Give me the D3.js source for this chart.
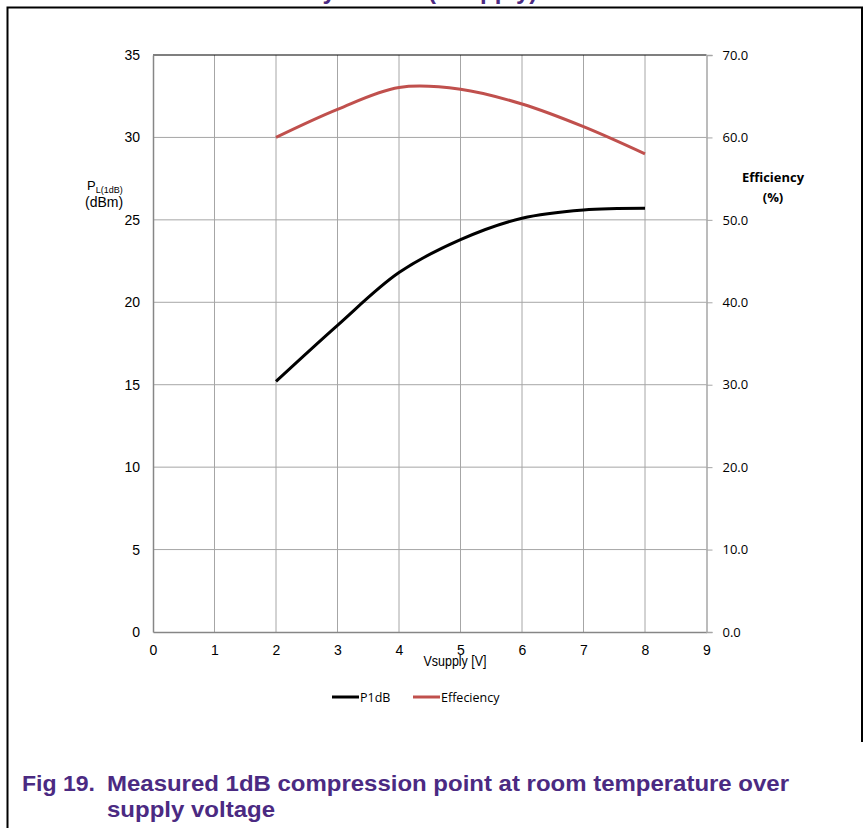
<!DOCTYPE html>
<html>
<head>
<meta charset="utf-8">
<script src="https://cdn.jsdelivr.net/npm/d3@7"></script>
<style>
  body { margin: 0; background: #fff; }
  svg { display: block; }
</style>
</head>
<body>
<svg id="chart" width="867" height="828"></svg>
<script>
// supply voltage (V) at which the points were measured
const vsupply = [2, 3, 4, 5, 6, 7, 8];
// P1dB in dBm (left axis)
const p1dB = [15.2, 18.6, 21.8, 23.8, 25.1, 25.6, 25.7];
// efficiency in % (right axis)
const efficiency = [60.0, 63.4, 66.05, 65.85, 64.05, 61.3, 58.0];

const xTicks = d3.range(0, 10, 1);
const leftTicks = d3.range(0, 36, 5);
const rightTicks = d3.range(0, 71, 10);

const purple = "#4b2a82";
const svg = d3.select("#chart");

const x = d3.scaleLinear().domain([0, 9]).range([153, 706.5]);
const yL = d3.scaleLinear().domain([0, 35]).range([632, 55]);
const yR = d3.scaleLinear().domain([0, 70]).range([632, 55]);

// page frame
svg.append("path")
  .attr("d", "M7.5,828 V7.5 H862 V742")
  .attr("fill", "none").attr("stroke", "#000").attr("stroke-width", 2);

// cut-off heading above the frame
svg.append("text").attr("x", 420).attr("y", -1).attr("text-anchor", "end")
  .attr("font-family", "Liberation Sans, Arial, sans-serif").attr("font-weight", "bold")
  .attr("font-size", 24).attr("fill", purple)
  .text("Measured P1dB and efficiency versus");
svg.append("text").attr("x", 428).attr("y", -1)
  .attr("font-family", "Liberation Sans, Arial, sans-serif").attr("font-weight", "bold")
  .attr("font-size", 24).attr("fill", purple)
  .text("(Vsupply)");

// grid
const grid = svg.append("g").attr("stroke", "#a6a6a6").attr("stroke-width", 1);
grid.selectAll("line.v").data(xTicks.filter(d => d > 0 && d < 9)).join("line")
  .attr("x1", d => x(d)).attr("x2", d => x(d))
  .attr("y1", yL(35)).attr("y2", yL(0));
grid.selectAll("line.h").data(leftTicks.filter(d => d > 0 && d < 35)).join("line")
  .attr("x1", x(0)).attr("x2", x(9))
  .attr("y1", d => yL(d)).attr("y2", d => yL(d));

svg.append("line")
  .attr("x1", x(0)).attr("x2", x(9)).attr("y1", yL(35)).attr("y2", yL(35))
  .attr("stroke", "#000").attr("stroke-width", 1.2);

// axes
const leftAxis = svg.append("g").attr("transform", `translate(${x(0)},0)`)
  .call(d3.axisLeft(yL).tickValues(leftTicks).tickSize(0).tickPadding(13).tickFormat(d3.format("d")));
const bottomAxis = svg.append("g").attr("transform", `translate(0,${yL(0)})`)
  .call(d3.axisBottom(x).tickValues(xTicks).tickSize(0).tickPadding(13).tickFormat(d3.format("d")));
const rightAxis = svg.append("g").attr("transform", `translate(${x(9)},0)`)
  .call(d3.axisRight(yR).tickValues(rightTicks).tickSize(6).tickPadding(10).tickFormat(d3.format(".1f")));

[leftAxis, bottomAxis].forEach(g => {
  g.select(".domain").attr("stroke", "#868686").attr("stroke-width", 1.5);
  g.selectAll("text").attr("font-family", "Liberation Sans, Arial, sans-serif")
    .attr("font-size", 14).attr("fill", "#000");
});
rightAxis.select(".domain").attr("stroke", "#a6a6a6").attr("stroke-width", 1.5);
rightAxis.selectAll(".tick line").attr("stroke", "#a6a6a6");
rightAxis.selectAll("text").attr("font-family", "Open Sans, Noto Sans, sans-serif")
  .attr("font-size", 13).attr("fill", "#000");

// axis titles
const pl = svg.append("text").attr("x", 87).attr("y", 190)
  .attr("font-family", "Liberation Sans, Arial, sans-serif").attr("font-size", 13).attr("fill", "#000");
pl.append("tspan").text("P");
pl.append("tspan").attr("font-size", 9).attr("dy", 3).text("L(1dB)");
svg.append("text").attr("x", 85).attr("y", 207)
  .attr("font-family", "Liberation Sans, Arial, sans-serif").attr("font-size", 14).attr("fill", "#000")
  .text("(dBm)");

svg.append("text").attr("x", 455).attr("y", 666).attr("text-anchor", "middle")
  .attr("font-family", "Liberation Sans, Arial, sans-serif").attr("font-size", 14)
  .attr("textLength", 63).attr("lengthAdjust", "spacingAndGlyphs").attr("fill", "#000")
  .text("Vsupply [V]");

svg.append("text").attr("x", 773).attr("y", 182).attr("text-anchor", "middle")
  .attr("font-family", "Open Sans, Noto Sans, sans-serif").attr("font-weight", "bold").attr("font-size", 13)
  .attr("textLength", 62).attr("lengthAdjust", "spacingAndGlyphs").attr("fill", "#000")
  .text("Efficiency");
svg.append("text").attr("x", 773).attr("y", 202).attr("text-anchor", "middle")
  .attr("font-family", "Open Sans, Noto Sans, sans-serif").attr("font-weight", "bold").attr("font-size", 13)
  .attr("fill", "#000")
  .text("(%)");

// series
const series = [
  { name: "P1dB", values: p1dB, y: yL, color: "#000000" },
  { name: "Effeciency", values: efficiency, y: yR, color: "#c0504d" }
];

series.forEach(s => {
  const line = d3.line()
    .x((d, i) => x(vsupply[i]))
    .y(d => s.y(d))
    .curve(d3.curveCatmullRom.alpha(0.5));
  svg.append("path")
    .attr("d", line(s.values))
    .attr("fill", "none")
    .attr("stroke", s.color)
    .attr("stroke-width", 3);
});

// legend
const legend = svg.append("g");
const legendX = [332, 413];
series.forEach((s, i) => {
  legend.append("line")
    .attr("x1", legendX[i]).attr("x2", legendX[i] + 27)
    .attr("y1", 697).attr("y2", 697)
    .attr("stroke", s.color).attr("stroke-width", 3);
  legend.append("text")
    .attr("x", legendX[i] + 28).attr("y", 701.5)
    .attr("font-family", "Open Sans, Noto Sans, sans-serif").attr("font-size", 12.5).attr("fill", "#000")
    .text(s.name);
});

// figure caption
const cap = svg.append("g").attr("font-family", "Liberation Sans, Arial, sans-serif")
  .attr("font-weight", "bold").attr("font-size", 22).attr("fill", purple);
cap.append("text").attr("x", 22).attr("y", 791)
  .attr("textLength", 73).attr("lengthAdjust", "spacingAndGlyphs").text("Fig 19.");
cap.append("text").attr("x", 107).attr("y", 791)
  .attr("textLength", 682).attr("lengthAdjust", "spacingAndGlyphs")
  .text("Measured 1dB compression point at room temperature over");
cap.append("text").attr("x", 107).attr("y", 817)
  .attr("textLength", 168).attr("lengthAdjust", "spacingAndGlyphs")
  .text("supply voltage");
</script>
</body>
</html>
